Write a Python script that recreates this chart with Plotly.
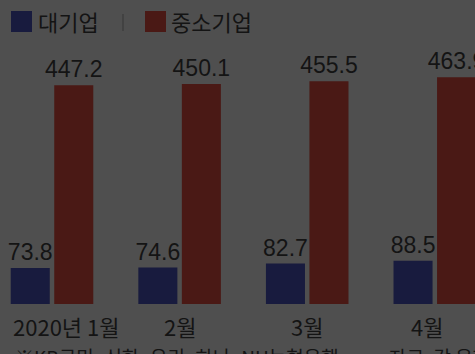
import plotly.graph_objects as go

# Monthly figures (unit omitted in the graphic)
months = ["2020년 1월", "2월", "3월", "4월"]
large_firms = [73.8, 74.6, 82.7, 88.5]
small_firms = [447.2, 450.1, 455.5, 463.9]
series_names = ["대기업", "중소기업"]
note_text = "※KB국민·신한·우리·하나·NH농협은행"
source_text = "자료: 각 은행"

BG = "rgb(79,79,79)"
NAVY = "rgb(24,27,62)"
RED = "rgb(74,25,21)"
INK = "rgb(20,20,20)"
KFONT = "Noto Sans CJK KR"
NUMFONT = "Liberation Sans, Arial, sans-serif"

x = list(range(len(months)))

fig = go.Figure()
for vals, color in ((large_firms, NAVY), (small_firms, RED)):
    fig.add_bar(
        x=x, y=vals, marker=dict(color=color, line=dict(width=0)),
        text=[f"{v:.1f}" for v in vals], textposition="outside",
        textfont=dict(family=NUMFONT, size=23, color=INK),
        constraintext="none", cliponaxis=False, showlegend=False,
    )

# month labels under each group
for i, m in enumerate(months):
    fig.add_annotation(
        x=i, y=0, xref="x", yref="y", yshift=-4, yanchor="top",
        text=m, showarrow=False,
        xshift=14 if i == 0 else (-8 if i == 3 else 0),
        font=dict(family=KFONT, size=22, color=INK),
    )

# legend row
fig.add_shape(type="rect", xref="paper", yref="paper", x0=11/475, x1=32/475,
              y0=1 + (60-32)/244, y1=1 + (60-11)/244,
              fillcolor=NAVY, line=dict(width=0))
fig.add_shape(type="rect", xref="paper", yref="paper", x0=145/475, x1=166/475,
              y0=1 + (60-32)/244, y1=1 + (60-11)/244,
              fillcolor=RED, line=dict(width=0))
fig.add_shape(type="line", xref="paper", yref="paper", x0=123/475, x1=123/475,
              y0=1 + (60-31)/244, y1=1 + (60-14)/244,
              line=dict(color="rgb(62,62,62)", width=1.5))
for name, px in zip(series_names, (36, 169)):
    fig.add_annotation(
        x=px/475, y=1 + (60-21.5)/244, xref="paper", yref="paper",
        xanchor="left", yanchor="middle", text=name, showarrow=False,
        font=dict(family=KFONT, size=22, color=INK),
    )

# footnote and source line along the bottom edge
fig.add_annotation(x=13/475, y=-(341-304)/244, xref="paper", yref="paper",
                   xanchor="left", yanchor="top", text=note_text, showarrow=False,
                   font=dict(family=KFONT, size=19, color=INK))
fig.add_annotation(x=387/475, y=-(341-304)/244, xref="paper", yref="paper",
                   xanchor="left", yanchor="top", text=source_text, showarrow=False,
                   font=dict(family=KFONT, size=19, color=INK))

fig.update_layout(
    width=475, height=354,
    margin=dict(l=0, r=0, t=60, b=50, pad=0),
    paper_bgcolor=BG, plot_bgcolor=BG,
    barmode="group", bargap=0.318, bargroupgap=0.103,
    xaxis=dict(range=[-0.4075, 3.315], showticklabels=False, showgrid=False,
               zeroline=False, showline=False, ticks=""),
    yaxis=dict(range=[0, 499], visible=False, showgrid=False, zeroline=False),
)

fig.write_html("out.html")
